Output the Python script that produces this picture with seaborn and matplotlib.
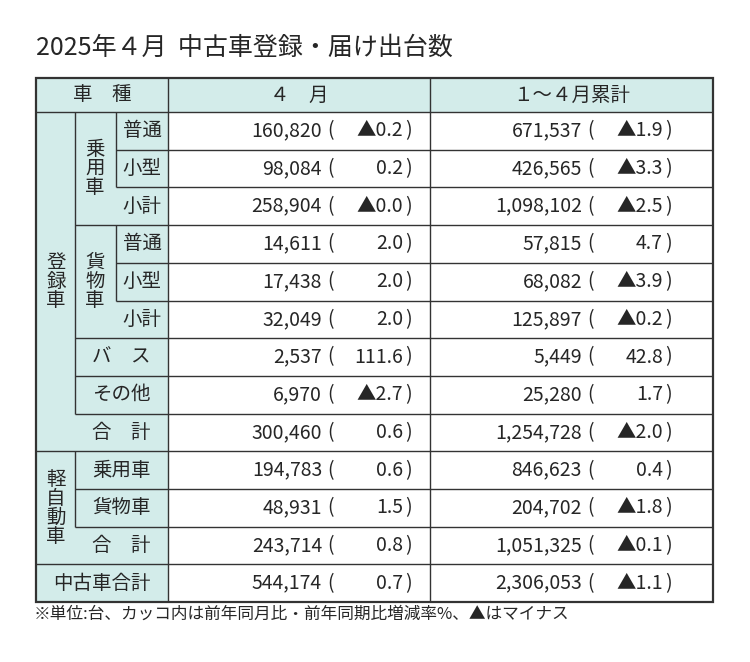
import matplotlib
matplotlib.use("Agg")
import matplotlib.pyplot as plt
import seaborn as sns

sns.set_theme(style="white", font="Noto Sans CJK JP")

# ---- data ----
title = "2025年４月  中古車登録・届け出台数"
footnote = "※単位:台、カッコ内は前年同月比・前年同期比増減率%、▲はマイナス"
headers = ["車　種", "４　月", "１～４月累計"]
row_labels = ["普通", "小型", "小計", "普通", "小型", "小計", "バ　ス", "その他",
              "合　計", "乗用車", "貨物車", "合　計", "中古車合計"]
month_units = ["160,820", "98,084", "258,904", "14,611", "17,438", "32,049", "2,537",
               "6,970", "300,460", "194,783", "48,931", "243,714", "544,174"]
month_pct = ["▲0.2", "0.2", "▲0.0", "2.0", "2.0", "2.0", "111.6",
             "▲2.7", "0.6", "0.6", "1.5", "0.8", "0.7"]
cum_units = ["671,537", "426,565", "1,098,102", "57,815", "68,082", "125,897", "5,449",
             "25,280", "1,254,728", "846,623", "204,702", "1,051,325", "2,306,053"]
cum_pct = ["▲1.9", "▲3.3", "▲2.5", "4.7", "▲3.9", "▲0.2", "42.8",
           "1.7", "▲2.0", "0.4", "▲1.8", "▲0.1", "▲1.1"]
group_labels = [("登録車", 56, 0, 8), ("乗用車", 95, 0, 2), ("貨物車", 95, 3, 5),
                ("軽自動車", 56, 9, 11)]

# ---- geometry (pixels) ----
W, H = 750, 662
x0, xa, xb, xc, xd, x1 = 36, 75, 116, 168, 430, 713
y_head, y_top, rh = 78, 112, 37.7
fill = "#d3ecea"
lc = "#333333"

fig = plt.figure(figsize=(W / 100, H / 100), dpi=100)
ax = fig.add_axes([0, 0, 1, 1])
ax.set_xlim(0, W)
ax.set_ylim(H, 0)
ax.axis("off")

nrow = len(row_labels)
ybot = y_top + rh * nrow


def ry(i):
    return y_top + rh * i


# backgrounds
ax.add_patch(plt.Rectangle((x0, y_head), x1 - x0, y_top - y_head, color=fill, lw=0))
ax.add_patch(plt.Rectangle((x0, y_top), xc - x0, ybot - y_top, color=fill, lw=0))


def hline(y, xs, xe, lw=1.0):
    ax.plot([xs, xe], [y, y], color=lc, lw=lw, solid_capstyle="butt")


def vline(x, ys, ye, lw=1.0):
    ax.plot([x, x], [ys, ye], color=lc, lw=lw, solid_capstyle="butt")


# horizontal lines between rows
starts = [xb, xb, xa, xb, xb, xa, xa, xa, x0, xa, xa, x0]
for i, xs in enumerate(starts):
    hline(ry(i + 1), xs, x1)
hline(y_top, x0, x1)
# verticals
vline(xa, y_top, ry(8))
vline(xb, y_top, ry(2))
vline(xb, ry(3), ry(5))
vline(xa, ry(9), ry(11))
vline(xc, y_head, ybot)
vline(xd, y_head, ybot)
# outer frame
ax.add_patch(plt.Rectangle((x0, y_head), x1 - x0, ybot - y_head, fill=False, ec=lc, lw=1.6))

fs = 14
# header
for txt, xs, xe in zip(headers, [x0, xc, xd], [xc, xd, x1]):
    ax.text((xs + xe) / 2, (y_head + y_top) / 2, txt, ha="center", va="center", fontsize=fs)

# row labels
for i, lab in enumerate(row_labels):
    yc = ry(i) + rh / 2
    if i in (0, 1, 2, 3, 4, 5):
        xcen = (xb + xc) / 2
    elif i == 12:
        xcen = (x0 + xc) / 2
    else:
        xcen = (xa + xc) / 2
    ax.text(xcen, yc, lab, ha="center", va="center", fontsize=fs)

# vertical group labels
for lab, xg, r0, r1 in group_labels:
    yc = (ry(r0) + ry(r1 + 1)) / 2
    n = len(lab)
    for k, ch in enumerate(lab):
        ax.text(xg, yc + (k - (n - 1) / 2) * 19, ch, ha="center", va="center", fontsize=fs)

# data cells
for i in range(nrow):
    yc = ry(i) + rh / 2
    ax.text(322, yc, month_units[i], ha="right", va="center", fontsize=fs)
    ax.text(327, yc, "(", ha="left", va="center", fontsize=fs)
    ax.text(403, yc, month_pct[i], ha="right", va="center", fontsize=fs)
    ax.text(405, yc, ")", ha="left", va="center", fontsize=fs)
    ax.text(582, yc, cum_units[i], ha="right", va="center", fontsize=fs)
    ax.text(587, yc, "(", ha="left", va="center", fontsize=fs)
    ax.text(663, yc, cum_pct[i], ha="right", va="center", fontsize=fs)
    ax.text(665, yc, ")", ha="left", va="center", fontsize=fs)

ax.text(x0, 48, title, ha="left", va="center", fontsize=18)
ax.text(x0 - 2, 614, footnote, ha="left", va="center", fontsize=12)

fig.savefig("out.png", dpi=100)
